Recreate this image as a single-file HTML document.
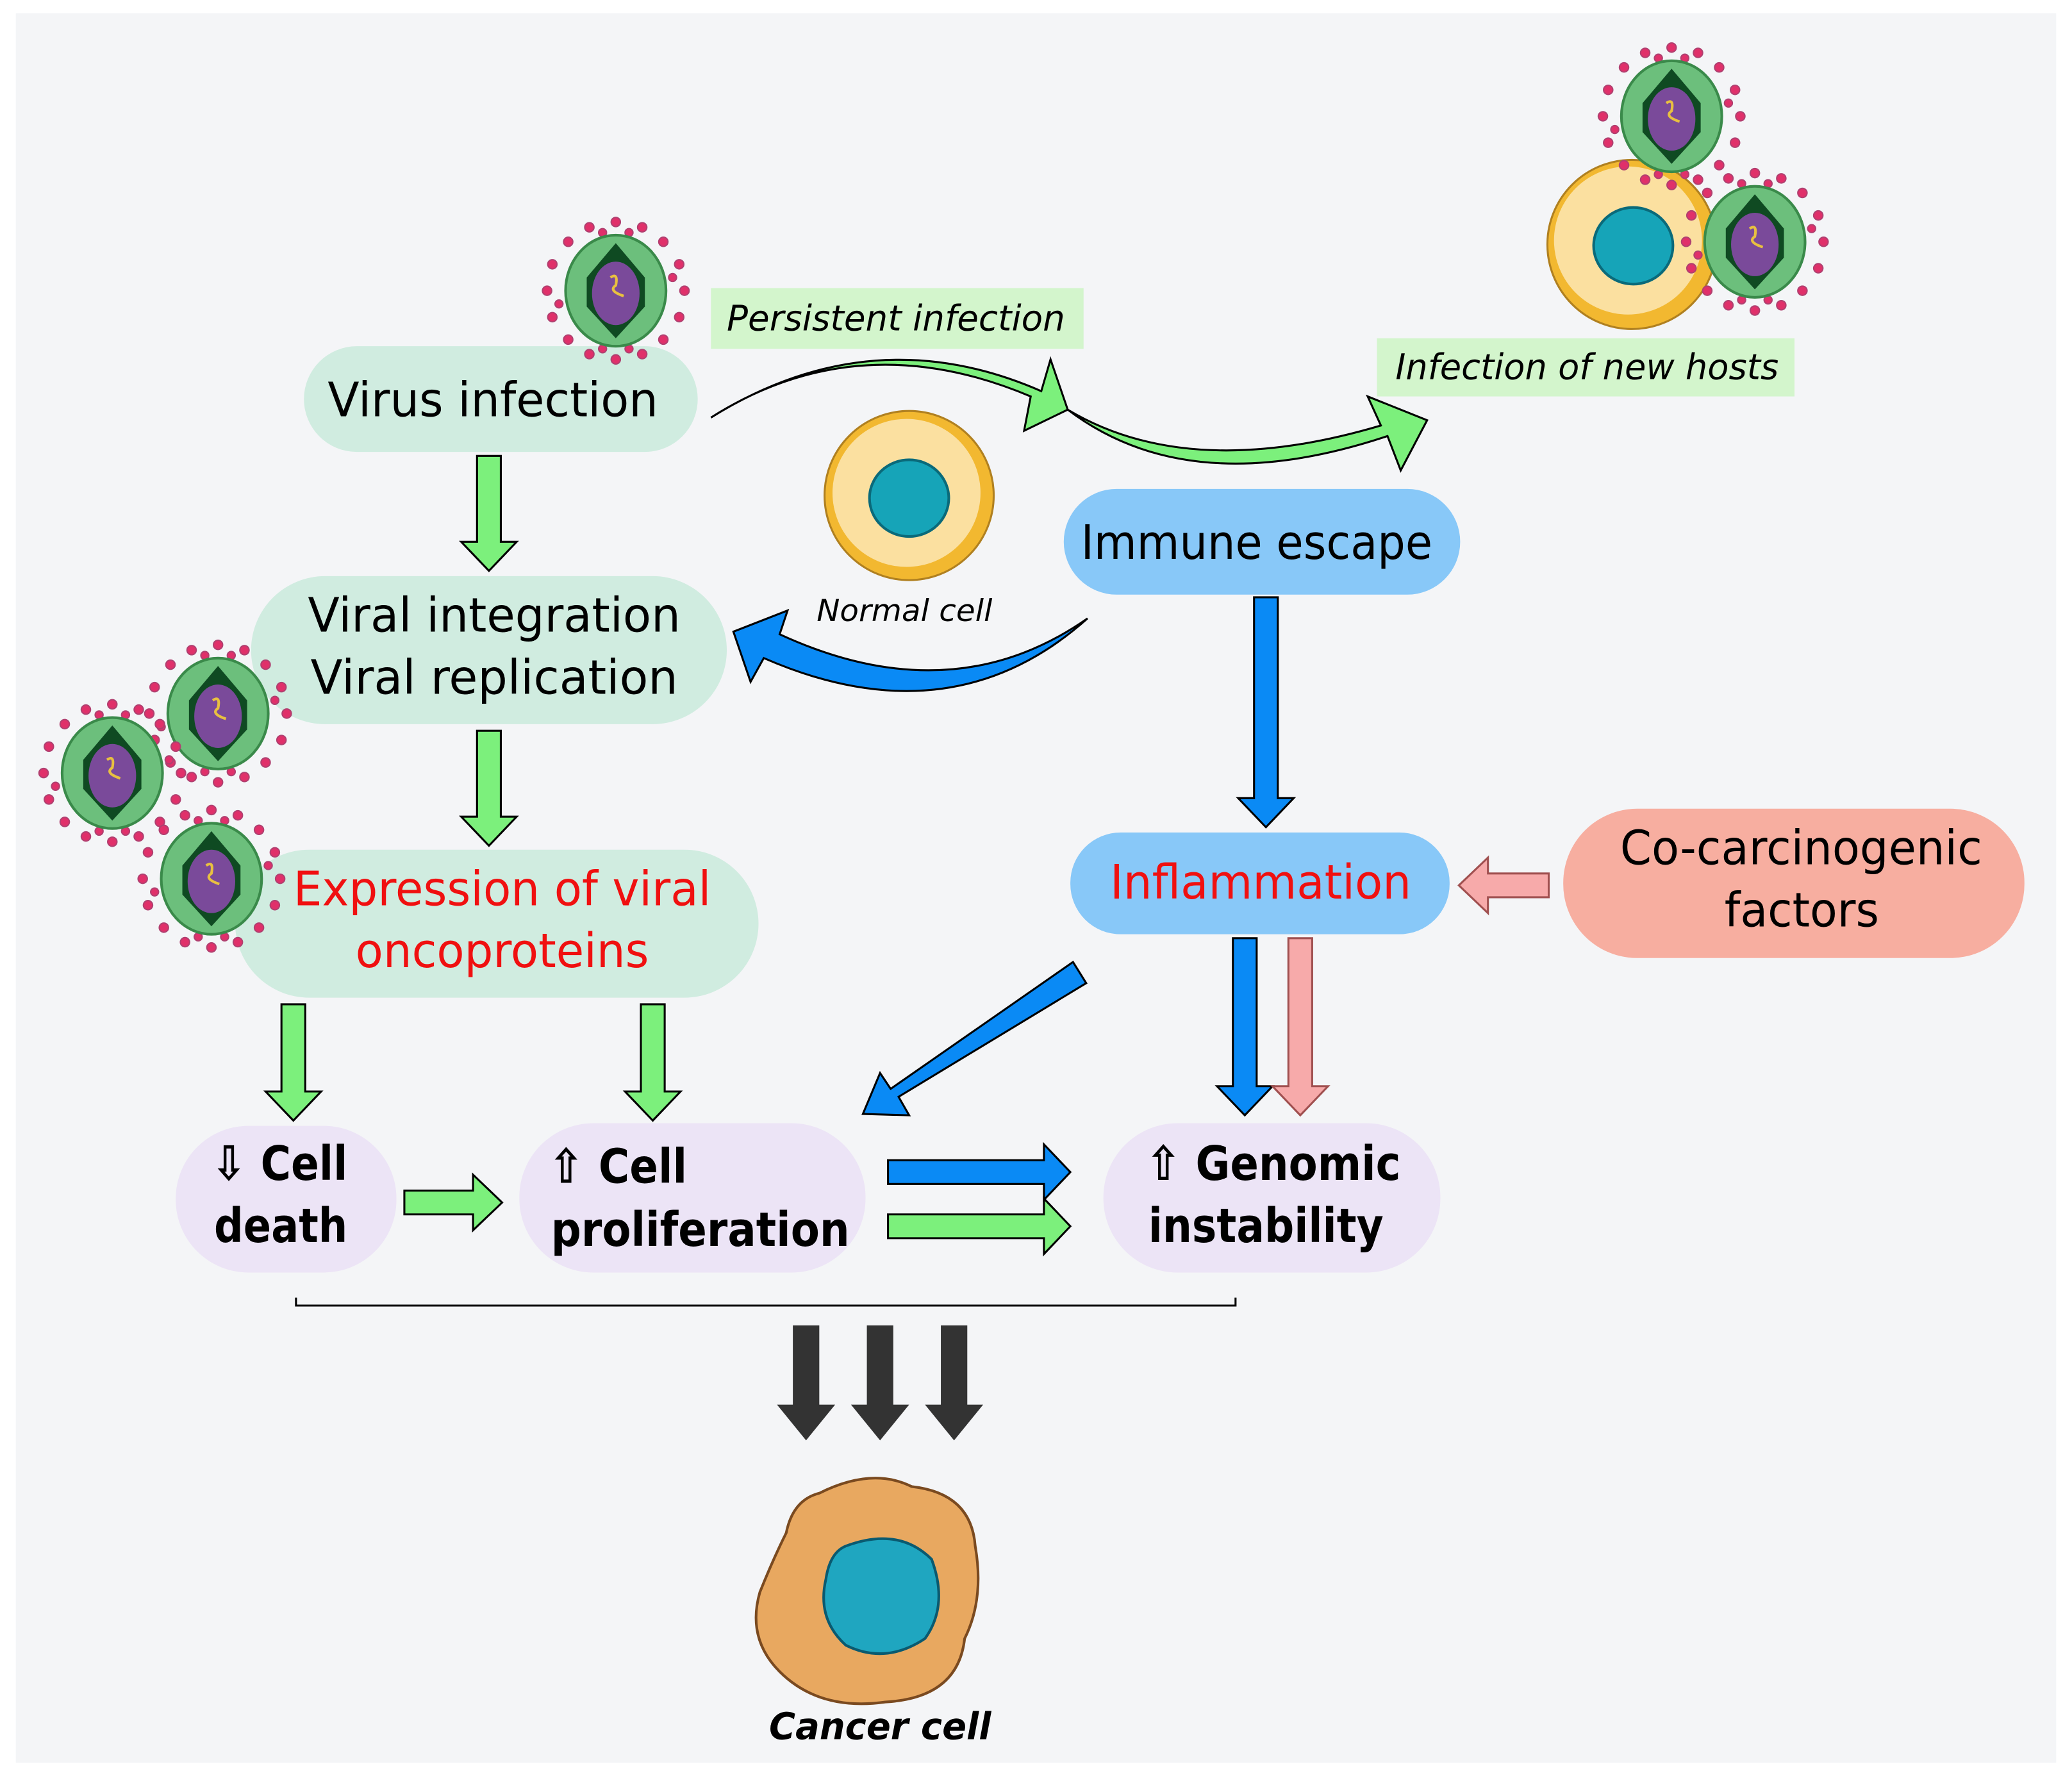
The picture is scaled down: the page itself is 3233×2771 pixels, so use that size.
<!DOCTYPE html>
<html><head><meta charset="utf-8"><style>
html,body{margin:0;padding:0;background:#fff;}
svg{display:block;}
text{font-family:"DejaVu Sans","Liberation Sans",sans-serif;}
</style></head><body>
<svg width="3233" height="2771" viewBox="0 0 1568 1344" preserveAspectRatio="none" xmlns="http://www.w3.org/2000/svg">
<defs>
<g id="vir">
  <g fill="#e0306a" stroke="#b04070" stroke-width="1">
    <circle cx="0" cy="-52" r="3.5"/><circle cx="20" cy="-48" r="3.5"/><circle cx="36" cy="-37" r="3.5"/><circle cx="48" cy="-20" r="3.5"/><circle cx="52" cy="0" r="3.5"/><circle cx="48" cy="20" r="3.5"/><circle cx="36" cy="37" r="3.5"/><circle cx="20" cy="48" r="3.5"/><circle cx="0" cy="52" r="3.5"/><circle cx="-20" cy="48" r="3.5"/><circle cx="-36" cy="37" r="3.5"/><circle cx="-48" cy="20" r="3.5"/><circle cx="-52" cy="0" r="3.5"/><circle cx="-48" cy="-20" r="3.5"/><circle cx="-36" cy="-37" r="3.5"/><circle cx="-20" cy="-48" r="3.5"/>
    <circle cx="10" cy="-44" r="3"/><circle cx="-10" cy="-44" r="3"/><circle cx="43" cy="-10" r="3"/><circle cx="-43" cy="10" r="3"/><circle cx="10" cy="44" r="3"/><circle cx="-10" cy="44" r="3"/>
  </g>
  <ellipse cx="0" cy="0" rx="38" ry="42" fill="#6cbf7c" stroke="#3a8a4a" stroke-width="2"/>
  <path d="M0,-36 L22,-10 L22,12 L0,36 L-22,12 L-22,-10 Z" fill="#0f4a22"/>
  <ellipse cx="0" cy="2" rx="18" ry="24" fill="#7a4a9a"/>
  <path d="M-4,-10 q6,-4 4,6 q-6,4 6,8" stroke="#e8c040" stroke-width="2" fill="none"/>
</g>
</defs>
<rect width="1568" height="1344" fill="#fff"/>
<rect x="12" y="10" width="1544" height="1324" fill="#f4f5f7"/>

<!-- green curved arrow -->
<path d="M538,316 Q650,245 780,300 L775,326 L808,310 L795,272 L788,296 Q660,240 538,316 Z" fill="#7cf07c" stroke="#000" stroke-width="1.5"/>
<path d="M808,310 Q900,380 1050,330 L1060,356 L1080,318 L1035,300 L1045,322 Q900,365 808,310 Z" fill="#7cf07c" stroke="#000" stroke-width="1.5"/>

<rect x="538" y="218" width="282" height="46" fill="#d3f5cc"/>
<text x="550" y="250" font-size="27" font-style="italic" textLength="256" lengthAdjust="spacingAndGlyphs">Persistent infection</text>
<rect x="1042" y="256" width="316" height="44" fill="#d3f5cc"/>
<text x="1056" y="287" font-size="27" font-style="italic" textLength="290" lengthAdjust="spacingAndGlyphs">Infection of new hosts</text>

<!-- boxes -->
<rect x="230" y="262" width="298" height="80" rx="40" fill="#d0ece0"/>
<text x="248" y="315" font-size="36" textLength="250" lengthAdjust="spacingAndGlyphs">Virus infection</text>
<rect x="190" y="436" width="360" height="112" rx="56" fill="#d0ece0"/>
<text x="233" y="478" font-size="36" textLength="282" lengthAdjust="spacingAndGlyphs">Viral integration</text>
<text x="235" y="525" font-size="36" textLength="278" lengthAdjust="spacingAndGlyphs">Viral replication</text>
<rect x="178" y="643" width="396" height="112" rx="56" fill="#d0ece0"/>
<text x="222" y="685" font-size="36" fill="#f01010" textLength="316" lengthAdjust="spacingAndGlyphs">Expression of viral</text>
<text x="269" y="732" font-size="36" fill="#f01010" textLength="222" lengthAdjust="spacingAndGlyphs">oncoproteins</text>

<rect x="133" y="852" width="167" height="111" rx="55" fill="#ece4f6"/>
<text x="160" y="893" font-size="36" font-weight="bold" textLength="103" lengthAdjust="spacingAndGlyphs">⇩ Cell</text>
<text x="162" y="940" font-size="36" font-weight="bold" textLength="101" lengthAdjust="spacingAndGlyphs">death</text>
<rect x="393" y="850" width="262" height="113" rx="56" fill="#ece4f6"/>
<text x="415" y="895" font-size="36" font-weight="bold" textLength="105" lengthAdjust="spacingAndGlyphs">⇧ Cell</text>
<text x="417" y="943" font-size="36" font-weight="bold" textLength="226" lengthAdjust="spacingAndGlyphs">proliferation</text>
<rect x="835" y="850" width="255" height="113" rx="56" fill="#ece4f6"/>
<text x="867" y="893" font-size="36" font-weight="bold" textLength="193" lengthAdjust="spacingAndGlyphs">⇧ Genomic</text>
<text x="869" y="940" font-size="36" font-weight="bold" textLength="178" lengthAdjust="spacingAndGlyphs">instability</text>

<rect x="805" y="370" width="300" height="80" rx="40" fill="#88c8f8"/>
<text x="818" y="423" font-size="36" textLength="266" lengthAdjust="spacingAndGlyphs">Immune escape</text>
<rect x="810" y="630" width="287" height="77" rx="38" fill="#88c8f8"/>
<text x="840" y="680" font-size="36" fill="#f01010" textLength="228" lengthAdjust="spacingAndGlyphs">Inflammation</text>
<rect x="1183" y="612" width="349" height="113" rx="56" fill="#f7aea0"/>
<text x="1226" y="654" font-size="36" textLength="274" lengthAdjust="spacingAndGlyphs">Co-carcinogenic</text>
<text x="1305" y="701" font-size="36" textLength="117" lengthAdjust="spacingAndGlyphs">factors</text>

<!-- green down arrows -->
<g fill="#7cf07c" stroke="#000" stroke-width="1.5">
<path d="M361,345 h18 v65 h12 l-21,22 l-21,-22 h12 Z"/>
<path d="M361,553 h18 v65 h12 l-21,22 l-21,-22 h12 Z"/>
<path d="M213,760 h18 v66 h12 l-21,22 l-21,-22 h12 Z"/>
<path d="M485,760 h18 v66 h12 l-21,22 l-21,-22 h12 Z"/>
<path d="M306,901 h52 v-12 l22,21 l-22,21 v-12 h-52 Z"/>
<path d="M672,919 h118 v-12 l20,21 l-20,21 v-12 h-118 Z"/>
</g>
<!-- blue arrows -->
<g fill="#0a8af5" stroke="#000" stroke-width="1.5">
<path d="M672,878 h118 v-12 l20,21 l-20,21 v-12 h-118 Z"/>
<path d="M949,452 h18 v152 h12 l-21,22 l-21,-22 h12 Z"/>
<path d="M933,710 h18 v112 h12 l-21,22 l-21,-22 h12 Z"/>
<path d="M812,728 L822,744 L680,830 L688,844 L653,843 L666,812 L674,824 Z"/>
<path d="M823,468 Q720,540 590,480 L596,462 L555,478 L568,516 L578,498 Q720,560 823,468 Z"/>
</g>
<!-- pink arrows -->
<g fill="#f7aaaa" stroke="#a05050" stroke-width="1.5">
<path d="M975,710 h18 v112 h12 l-21,22 l-21,-22 h12 Z"/>
<path d="M1172,661 h-46 v-12 l-22,21 l22,21 v-12 h46 Z"/>
</g>

<!-- bracket line -->
<path d="M224,982 V988 H935 V982" stroke="#000" stroke-width="1.5" fill="none"/>
<g fill="#333">
<path d="M600,1003 h20 v60 h12 l-22,27 l-22,-27 h12 Z"/>
<path d="M656,1003 h20 v60 h12 l-22,27 l-22,-27 h12 Z"/>
<path d="M712,1003 h20 v60 h12 l-22,27 l-22,-27 h12 Z"/>
</g>

<!-- normal cell -->
<circle cx="688" cy="375" r="64" fill="#f2b830" stroke="#b08020" stroke-width="1.5"/>
<circle cx="686" cy="373" r="56" fill="#fbe0a0"/>
<ellipse cx="688" cy="377" rx="30" ry="29" fill="#16a4b8" stroke="#0a6a7a" stroke-width="2"/>
<text x="618" y="470" font-size="23" font-style="italic" textLength="133" lengthAdjust="spacingAndGlyphs">Normal cell</text>

<!-- host cell top right -->
<circle cx="1235" cy="185" r="64" fill="#f2b830" stroke="#b08020" stroke-width="1.5"/>
<circle cx="1232" cy="182" r="56" fill="#fbe0a0"/>
<ellipse cx="1236" cy="186" rx="30" ry="29" fill="#16a4b8" stroke="#0a6a7a" stroke-width="2"/>

<!-- viruses -->
<use href="#vir" transform="translate(466,220)"/>
<use href="#vir" transform="translate(165,540)"/>
<use href="#vir" transform="translate(85,585)"/>
<use href="#vir" transform="translate(160,665)"/>
<use href="#vir" transform="translate(1265,88)"/>
<use href="#vir" transform="translate(1328,183)"/>

<!-- cancer cell -->
<path d="M620,1130 Q660,1110 690,1125 Q735,1130 738,1170 Q745,1210 730,1240 Q725,1285 670,1288 Q620,1295 590,1265 Q565,1240 575,1205 Q585,1180 595,1160 Q600,1135 620,1130 Z" fill="#e8a860" stroke="#7a4a20" stroke-width="2"/>
<path d="M640,1170 Q680,1155 705,1180 Q718,1215 700,1240 Q670,1260 640,1245 Q618,1225 625,1195 Q628,1175 640,1170 Z" fill="#1fa6c0" stroke="#0a5a70" stroke-width="2"/>
<text x="582" y="1316" font-size="28" font-weight="bold" font-style="italic" textLength="168" lengthAdjust="spacingAndGlyphs">Cancer cell</text>
</svg>
</body></html>
